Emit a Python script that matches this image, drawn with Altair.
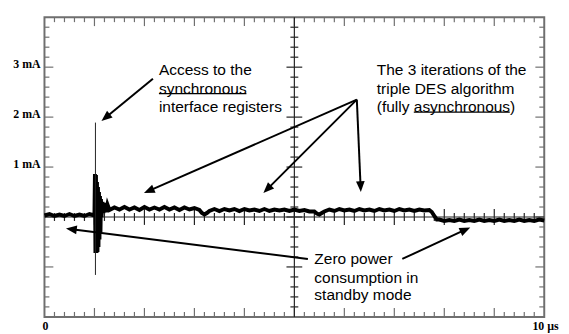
import math
import altair as alt
import pandas as pd

# ---------------- data ----------------
# current trace, x in microseconds, y in mA
trace_x = [0.0, 0.1, 0.2, 0.3, 0.4, 0.5, 0.6, 0.7, 0.8, 0.9, 1.0,
           1.01, 1.02, 1.03, 1.04, 1.05, 1.06, 1.07, 1.08, 1.09, 1.10,
           1.11, 1.12, 1.13, 1.14, 1.16, 1.18, 1.20, 1.23, 1.26, 1.30,
           1.4, 1.5, 1.6, 1.7, 1.8, 1.9, 2.0, 2.1, 2.2, 2.3, 2.4, 2.5,
           2.6, 2.7, 2.8, 2.9, 3.0, 3.1, 3.15, 3.2, 3.25, 3.3,
           3.4, 3.5, 3.6, 3.7, 3.8, 3.9, 4.0, 4.1, 4.2, 4.3, 4.4, 4.5,
           4.6, 4.7, 4.8, 4.9, 5.0, 5.1, 5.2, 5.3, 5.4, 5.45, 5.5, 5.55, 5.6,
           5.7, 5.8, 5.9, 6.0, 6.1, 6.2, 6.3, 6.4, 6.5, 6.6, 6.7, 6.8,
           6.9, 7.0, 7.1, 7.2, 7.3, 7.4, 7.5, 7.6, 7.7, 7.75, 7.8, 7.85,
           7.9, 8.0, 8.1, 8.2, 8.3, 8.4, 8.5, 8.6, 8.7, 8.8, 8.9, 9.0,
           9.1, 9.2, 9.3, 9.4, 9.5, 9.6, 9.7, 9.8, 9.9, 10.0]
trace_y = [0.03, 0.06, 0.02, 0.05, 0.02, 0.06, 0.02, 0.05, 0.02, 0.06, 0.03,
           0.86, -0.72, 0.84, -0.72, 0.70, -0.70, 0.60, -0.60, 0.50, -0.45,
           0.42, -0.30, 0.36, 0.00, 0.30, 0.08, 0.28, 0.10, 0.25, 0.14,
           0.19, 0.15, 0.20, 0.15, 0.19, 0.14, 0.20, 0.15, 0.19, 0.15, 0.20, 0.15,
           0.19, 0.14, 0.19, 0.15, 0.18, 0.14, 0.08, 0.05, 0.08, 0.12,
           0.16, 0.12, 0.16, 0.13, 0.16, 0.12, 0.16, 0.13, 0.15, 0.12, 0.16, 0.12,
           0.15, 0.13, 0.15, 0.12, 0.15, 0.12, 0.14, 0.11, 0.11, 0.07, 0.05, 0.08, 0.11,
           0.15, 0.12, 0.16, 0.13, 0.15, 0.12, 0.16, 0.13, 0.15, 0.12, 0.16, 0.13,
           0.15, 0.12, 0.16, 0.13, 0.15, 0.12, 0.15, 0.13, 0.14, 0.10, 0.02, -0.05,
           -0.05, -0.08, -0.06, -0.08, -0.05, -0.08, -0.06, -0.08, -0.05, -0.08, -0.06, -0.08,
           -0.05, -0.08, -0.06, -0.08, -0.05, -0.08, -0.06, -0.08, -0.05, -0.07]

# thin access spike
spike_x = [1.02]
spike_lo = [-1.16]
spike_hi = [1.89]

# annotation texts
note_lines = ["Access to the", "synchronous", "interface registers",
              "The 3 iterations of the", "triple DES algorithm", "(fully asynchronous)",
              "Zero power", "consumption in", "standby mode"]
note_x = [2.29, 2.29, 2.29, 6.65, 6.65, 6.65, 5.40, 5.40, 5.40]
note_y = [2.95, 2.57, 2.21, 2.95, 2.57, 2.20, -0.84, -1.22, -1.57]

# underlines (synchronous / asynchronous)
ul_x0 = [2.29, 7.39]
ul_x1 = [4.04, 9.31]
ul_y = [2.47, 2.10]

# arrows: tail -> tip
arrow_x0 = [2.17, 6.25, 6.25, 6.25, 5.27, 7.16]
arrow_y0 = [2.77, 2.35, 2.35, 2.35, -0.84, -0.84]
arrow_x1 = [1.14, 1.99, 4.38, 6.33, 0.43, 8.52]
arrow_y1 = [1.92, 0.48, 0.48, 0.50, -0.23, -0.21]

# axis labels
ylab_values = [3, 2, 1]
ylab_text = ["3 mA", "2 mA", "1 mA"]
xlab_values = [0, 10]
xlab_text = ["0", "10 µs"]

# ---------------- layout ----------------
W, H = 507, 304
XD, YD = [0, 10], [-2, 4]
sx = W / (XD[1] - XD[0])
sy = H / (YD[1] - YD[0])

xs = alt.Scale(domain=XD, nice=False, zero=False)
ys = alt.Scale(domain=YD, nice=False, zero=False)

def X(f="x"):
    return alt.X(f"{f}:Q", scale=xs, axis=None)

def Y(f="y"):
    return alt.Y(f"{f}:Q", scale=ys, axis=None)

layers = []

# tick positions (decoration)
xminor = [round(i * 0.2, 2) for i in range(51) if i % 5 != 0]
xmajor = [float(i) for i in range(1, 10)]
yminor = [round(-2 + i * 0.2, 2) for i in range(31) if i % 5 != 0]
ymajor = [float(v) for v in range(-1, 4)]

BORDER = "#6f6f6f"
CENTER = "#222222"

for vals, L in [(xminor, 5), (xmajor, 9)]:
    cl = 4 if L == 5 else 8
    d = pd.DataFrame({"x": vals, "z": [0.0] * len(vals)})
    layers.append(alt.Chart(d).mark_rule(color=BORDER, strokeWidth=1.2).encode(
        x=X(), y=alt.value(0), y2=alt.value(L)))
    layers.append(alt.Chart(d).mark_rule(color=BORDER, strokeWidth=1.2).encode(
        x=X(), y=alt.value(H), y2=alt.value(H - L)))
    layers.append(alt.Chart(d).mark_rule(color=CENTER, strokeWidth=1.2,
                                         yOffset=-cl, y2Offset=cl).encode(
        x=X(), y=Y("z"), y2="z:Q"))

for vals, L in [(yminor, 5), (ymajor, 9)]:
    cl = 4 if L == 5 else 8
    d = pd.DataFrame({"y": vals, "c": [5.0] * len(vals)})
    layers.append(alt.Chart(d).mark_rule(color=BORDER, strokeWidth=1.2).encode(
        y=Y(), x=alt.value(0), x2=alt.value(L)))
    layers.append(alt.Chart(d).mark_rule(color=BORDER, strokeWidth=1.2).encode(
        y=Y(), x=alt.value(W), x2=alt.value(W - L)))
    layers.append(alt.Chart(d).mark_rule(color=CENTER, strokeWidth=1.2,
                                         xOffset=-cl, x2Offset=cl).encode(
        y=Y(), x=X("c"), x2="c:Q"))

# center cross lines
layers.append(alt.Chart(pd.DataFrame({"x": [5.0]})).mark_rule(color=CENTER, strokeWidth=1.2).encode(x=X()))
layers.append(alt.Chart(pd.DataFrame({"y": [0.0]})).mark_rule(color=CENTER, strokeWidth=1.2).encode(y=Y()))

# trace
tdf = pd.DataFrame({"x": trace_x, "y": trace_y, "o": list(range(len(trace_x)))})
layers.append(alt.Chart(tdf).mark_line(color="black", strokeWidth=4, strokeJoin="miter").encode(
    x=X(), y=Y(), order="o:Q"))
sdf = pd.DataFrame({"x": spike_x, "y": spike_lo, "y2": spike_hi})
layers.append(alt.Chart(sdf).mark_rule(color="#222222", strokeWidth=1).encode(
    x=X(), y=Y(), y2="y2:Q"))

# arrows
ax0, ay0, ax1, ay1, ang = [], [], [], [], []
for x0, y0, x1, y1 in zip(arrow_x0, arrow_y0, arrow_x1, arrow_y1):
    dxp = (x1 - x0) * sx
    dyp = -(y1 - y0) * sy
    ln = math.hypot(dxp, dyp)
    ux, uy = dxp / ln, dyp / ln
    back = 6.0
    ax0.append(x0); ay0.append(y0)
    ax1.append(x1 - ux * back / sx)
    ay1.append(y1 + uy * back / sy)
    ang.append(math.degrees(math.atan2(ux, -uy)) % 360)
adf = pd.DataFrame({"x": ax0, "y": ay0, "x2": ax1, "y2": ay1})
layers.append(alt.Chart(adf).mark_rule(color="black", strokeWidth=2).encode(
    x=X(), y=Y(), x2="x2:Q", y2="y2:Q"))
hdf = pd.DataFrame({"x": arrow_x1, "y": arrow_y1, "a": ang})
layers.append(alt.Chart(hdf).mark_point(shape="M0,0L0.8,2L-0.8,2Z", filled=True, size=121,
                                       color="black", opacity=1, strokeWidth=0).encode(
    x=X(), y=Y(), angle=alt.Angle("a:Q", scale=None)))

# annotation text
ndf = pd.DataFrame({"x": note_x, "y": note_y, "t": note_lines})
layers.append(alt.Chart(ndf).mark_text(align="left", baseline="middle", font="Liberation Sans",
                                      fontSize=15.7, color="black").encode(
    x=X(), y=Y(), text="t:N"))
udf = pd.DataFrame({"x": ul_x0, "x2": ul_x1, "y": ul_y})
layers.append(alt.Chart(udf).mark_rule(color="black", strokeWidth=1.3).encode(
    x=X(), x2="x2:Q", y=Y()))

# axis labels
yl = pd.DataFrame({"y": ylab_values, "t": ylab_text})
layers.append(alt.Chart(yl).mark_text(align="right", baseline="middle", font="Liberation Serif",
                                     fontWeight="bold", fontSize=12, dx=-4, dy=-3, color="black").encode(
    x=alt.value(0), y=Y(), text="t:N"))
for xv, tv, ddx in zip(xlab_values, xlab_text, [-2, -12]):
    xl = pd.DataFrame({"x": [xv], "t": [tv]})
    layers.append(alt.Chart(xl).mark_text(align="left", baseline="alphabetic", font="Liberation Serif",
                                         fontWeight="bold", fontSize=12, dx=ddx, color="black").encode(
        x=X(), y=alt.value(H + 13), text="t:N"))

chart = alt.layer(*layers).properties(
    width=W, height=H,
    padding={"left": 37, "top": 7, "right": 17, "bottom": 15},
    autosize=alt.AutoSizeParams(type="none"),
).configure_view(stroke=BORDER, strokeWidth=2)

chart.save("out.html", embed_options={"renderer": "svg", "actions": False})
